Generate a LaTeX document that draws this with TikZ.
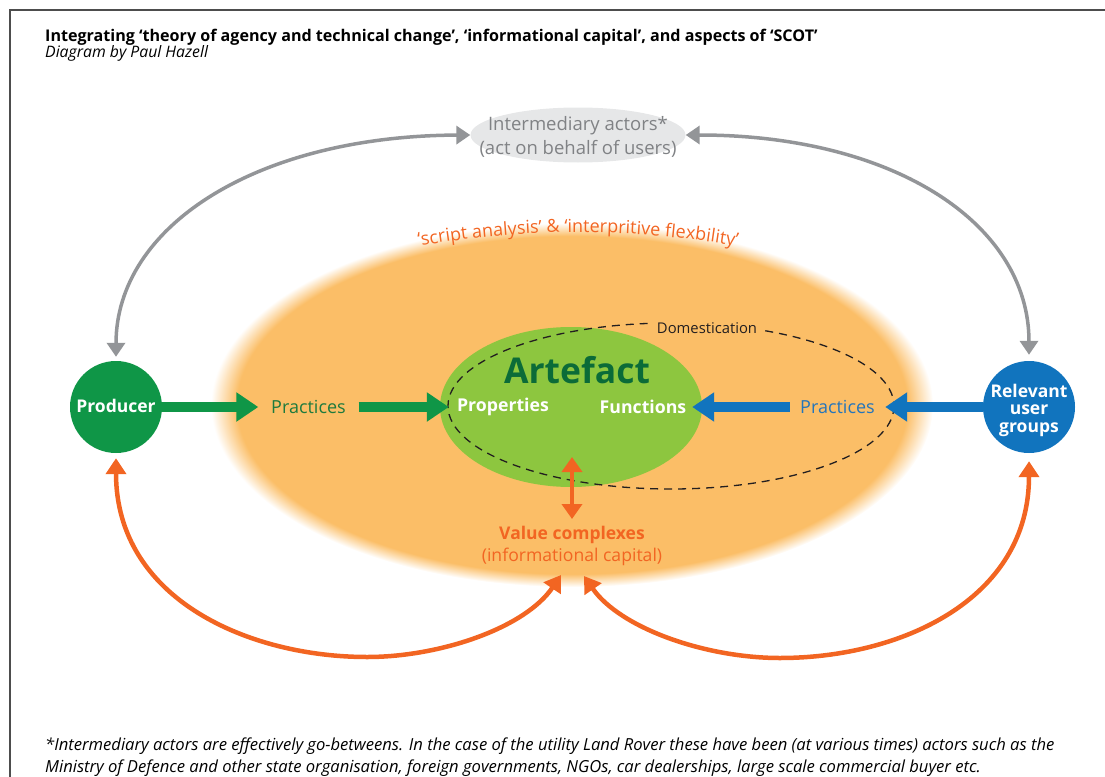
\documentclass[tikz,border=0pt]{standalone}
\usepackage{fontspec}
\setmainfont{Open Sans}
\usetikzlibrary{arrows.meta,shapes.geometric,decorations.text}
\definecolor{frameC}{HTML}{4D4D4D}
\definecolor{greyA}{HTML}{939598}
\definecolor{greyF}{HTML}{E6E7E8}
\definecolor{greyT}{HTML}{808285}
\definecolor{orF}{HTML}{FBBE67}
\definecolor{orT}{HTML}{F26522}
\definecolor{grP}{HTML}{0F9647}
\definecolor{grL}{HTML}{8DC63F}
\definecolor{grD}{HTML}{0B6B38}
\definecolor{grT}{HTML}{1D7A3D}
\definecolor{blU}{HTML}{1174BE}
\definecolor{blT}{HTML}{2475BB}
\definecolor{dashC}{HTML}{231F20}
\pgfdeclareradialshading{orblur}{\pgfpointorigin}{color(0bp)=(orF); color(23.2bp)=(orF); color(25bp)=(white); color(50bp)=(white)}
\begin{document}
\begin{tikzpicture}[x=1pt,y=-1pt,
  bigcirc/.style={circle, minimum size=92pt, inner sep=0pt, text=white, align=center,
    font=\bfseries\fontsize{17.5}{17.5}\selectfont},
  prac/.style={inner xsep=0pt, inner ysep=2pt, font=\fontsize{18}{20}\selectfont},
  inlab/.style={inner xsep=0pt, inner ysep=2pt, text=white, font=\bfseries\fontsize{17.7}{20}\selectfont},
  fatarrow/.style={line width=10pt, -{Triangle[length=22pt,width=28pt]}},
  greyarrow/.style={greyA, line width=3.5pt, {Triangle[length=14pt,width=18pt]}-{Triangle[length=14pt,width=18pt]}},
  orarrow/.style={orT, line width=4.5pt, {Triangle[length=16pt,width=20pt]}-{Triangle[length=16pt,width=20pt]}},
  vorarrow/.style={orT, line width=4pt, {Triangle[length=15pt,width=20pt]}-{Triangle[length=15pt,width=20pt]}},
  plain/.style={inner sep=0pt, anchor=base west}]
\useasboundingbox (0,0) rectangle (1105,776);
% frame
\draw[frameC, line width=1.5pt] (10,780) -- (10,10) -- (1110,10);
% title
\node[plain, font=\bfseries\fontsize{16.1}{18}\selectfont] (title) at (45,41.7)
  {Integrating ‘theory of agency and technical change’, ‘informational capital’, and aspects of ‘SCOT’};
\node[plain, font=\itshape\fontsize{15.8}{17}\selectfont] (sub) at (45,57.5) {Diagram by Paul Hazell};
% orange blurred field
\shade[shading=orblur] (572,405) ellipse [x radius=361, y radius=182];
% curved label
\path[decorate, decoration={text along path, text align=center,
  text={|\fontsize{18}{20}\selectfont\color{orT}|‘script analysis’ {\&} ‘interpritive flexbility’}}]
  (360,258) .. controls (503,224) and (653,224) .. (796,258);
% intermediary
\node[ellipse, fill=greyF, minimum width=215pt, minimum height=55pt, inner sep=0pt] (inter) at (578,135) {};
\node[align=center, text=greyT, font=\fontsize{18.5}{23.5}\selectfont, inner sep=0pt] (intertext) at (578,137) {Intermediary actors*\\(act on behalf of users)};
% artefact
\node[ellipse, fill=grL, minimum width=262pt, minimum height=160pt, inner sep=0pt] (artefact) at (571,407) {};
% domestication
\draw[dashC, line width=1.3pt, dash pattern=on 8pt off 6pt] (671,406) ellipse [x radius=223, y radius=83];
\node[fill=orF, inner xsep=7pt, inner ysep=1pt, text=dashC, font=\fontsize{14.8}{16}\selectfont] (dom) at (707,328) {Domestication};
\node[text=grD, inner sep=0pt, font=\bfseries\fontsize{35.5}{40}\selectfont] (arttext) at (577,370) {Artefact};
\node[inlab, minimum width=108pt] (prop) at (503,407) {Properties};
\node[inlab, minimum width=98pt] (func) at (643,407) {Functions};
% actors
\node[bigcirc, fill=grP] (producer) at (116,407) {};
\node[bigcirc, inner sep=0pt] (prodtext) at (116,406) {Producer};
\node[bigcirc, fill=blU] (users) at (1029,407) {};
\node[bigcirc, minimum size=0pt] (userstext) at (1029,410) {Relevant\\user\\groups};
\node[prac, text=grT, minimum width=100pt] (prac1) at (308.5,407) {Practices};
\node[prac, text=blT, minimum width=95pt] (prac2) at (837.5,407) {Practices};
% value complexes
\node[inner sep=0pt, anchor=base, text=orT, font=\bfseries\fontsize{17.5}{20}\selectfont] (value) at (572,539) {Value complexes};
\node[inner sep=0pt, anchor=base, text=orT, font=\fontsize{17.6}{20}\selectfont] (capital) at (572,561) {(informational capital)};
\coordinate (vtop) at (572,457);
\coordinate (vbot) at (572,519);
\coordinate (vl) at (561,575);
\coordinate (vr) at (584,576);
% arrows
\draw[fatarrow, grP] (producer.east) -- (prac1.west);
\draw[fatarrow, grP] (prac1.east) -- (prop.west);
\draw[fatarrow, blU] (users.west) -- (prac2.east);
\draw[fatarrow, blU] (prac2.west) -- (func.east);
\draw[greyarrow, shorten <=4pt] (producer.north) .. controls (116,226) and (257,136) .. (inter.west);
\draw[greyarrow, shorten >=6pt] (inter.east) .. controls (893,135) and (1029,223) .. (users.north);
\draw[vorarrow] (vtop) -- (vbot);
\draw[orarrow, shorten <=5pt] (producer.south) .. controls (116,600) and (250,657) .. (367,657)
  .. controls (440,657) and (525,628) .. (vl);
\draw[orarrow, shorten <=8pt] (users.south) .. controls (1029,600) and (900,658) .. (780,658)
  .. controls (705,658) and (620,628) .. (vr);
% footnote
\node[plain, font=\itshape\fontsize{16.6}{22}\selectfont] (foot1) at (45,750)
  {*Intermediary actors are effectively go-betweens. In the case of the utility Land Rover these have been (at various times) actors such as the};
\node[plain, font=\itshape\fontsize{16.6}{22}\selectfont] (foot2) at (45,772)
  {Ministry of Defence and other state organisation, foreign governments, NGOs, car dealerships, large scale commercial buyer etc.};
\end{tikzpicture}
\end{document}
